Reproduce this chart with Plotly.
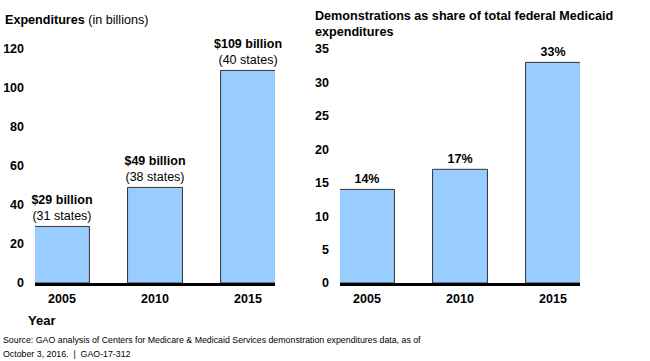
import plotly.graph_objects as go

years = ["2005", "2010", "2015"]
expenditures = [29, 49, 109]
states = [31, 38, 40]
shares = [14, 17, 33]
left_ticks = [0, 20, 40, 60, 80, 100, 120]
right_ticks = [0, 5, 10, 15, 20, 25, 30, 35]

FONT = "Liberation Sans, Arial, sans-serif"
FILL = "#99CCFF"
EDGE = "#333333"

fig = go.Figure()
fig.add_trace(go.Bar(
    x=years, y=expenditures, xaxis="x", yaxis="y",
    marker=dict(color=FILL, line=dict(color=EDGE, width=1)),
    width=0.59,
    text=[f"<b>${v} billion</b><br>({s} states)" for v, s in zip(expenditures, states)],
    textposition="outside", cliponaxis=False, constraintext="none",
    textfont=dict(size=12.5, color="black", family=FONT),
    hoverinfo="skip",
))
fig.add_trace(go.Bar(
    x=years, y=shares, xaxis="x2", yaxis="y2",
    marker=dict(color=FILL, line=dict(color=EDGE, width=1)),
    width=0.59,
    text=[f"<b>{v}%</b>" for v in shares],
    textposition="outside", cliponaxis=False, constraintext="none",
    textfont=dict(size=12.5, color="black", family=FONT),
    hoverinfo="skip",
))

ydom = [(361 - 283) / 361, (361 - 49) / 361]
tfont = dict(size=12.5, color="black", family=FONT, weight="bold")
axis_common = dict(showgrid=False, zeroline=False, ticks="", showline=True,
                   linecolor="black", linewidth=3, automargin=False,
                   tickfont=tfont, fixedrange=True, ticklabelstandoff=2)
yaxis_common = dict(showgrid=False, zeroline=False, showline=False, ticks="",
                    automargin=False, tickfont=tfont, fixedrange=True,
                    ticklabelstandoff=10)

fig.update_layout(
    width=650, height=361, margin=dict(l=0, r=0, t=0, b=0, pad=0),
    paper_bgcolor="white", plot_bgcolor="white", showlegend=False,
    font=dict(family=FONT, color="black"),
    bargap=0.41,
    xaxis=dict(domain=[35 / 650, 275 / 650], anchor="y", range=[-0.29, 2.29],
               type="category", **axis_common),
    yaxis=dict(domain=ydom, anchor="x", range=[0, 120], tickvals=left_ticks, **yaxis_common),
    xaxis2=dict(domain=[340 / 650, 580 / 650], anchor="y2", range=[-0.29, 2.29],
                type="category", **axis_common),
    yaxis2=dict(domain=ydom, anchor="x2", range=[0, 35], tickvals=right_ticks, **yaxis_common),
)

def ann(text, x, y, size, family=FONT):
    fig.add_annotation(text=text, x=x / 650, y=1 - y / 361, xref="paper", yref="paper",
                       showarrow=False, xanchor="left", yanchor="middle", align="left",
                       font=dict(size=size, color="black", family=family))

ann("<b>Expenditures</b> (in billions)", 3, 20, 12.6)
ann("<b>Demonstrations as share of total federal Medicaid</b><br><b>expenditures</b>", 313, 24, 12.6)
ann("<b>Year</b>", 26, 320, 13)
ann("Source: GAO analysis of Centers for Medicare &amp; Medicaid Services demonstration expenditures data, as of", 1, 340, 8.8)
ann("October 3, 2016.  |  GAO-17-312", 1, 354, 8.8)

fig.write_html("out.html", config={"displayModeBar": False, "staticPlot": True},
               post_script="document.body.style.margin='0';document.body.style.overflow='hidden';")
